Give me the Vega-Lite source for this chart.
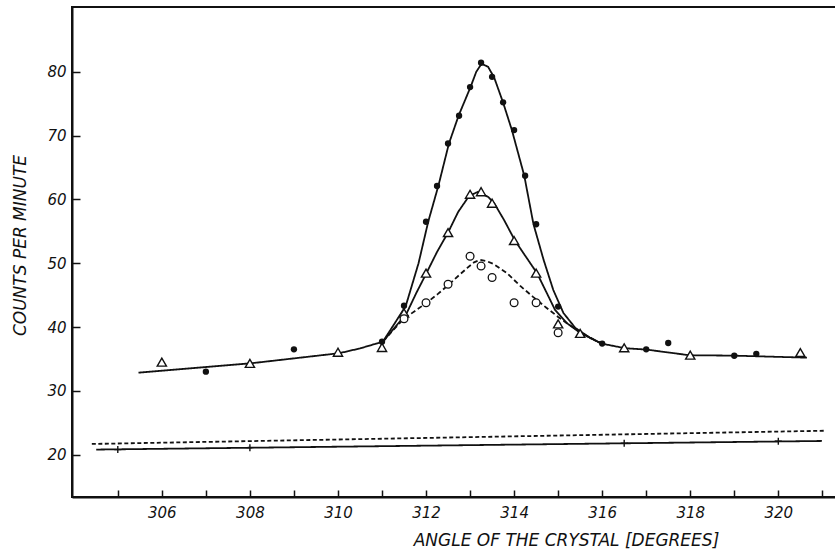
{
  "$schema": "https://vega.github.io/schema/vega-lite/v6.json",
  "autosize": {"type": "none"},
  "padding": {"left": 72, "top": 7, "right": 0, "bottom": 55},
  "width": 764,
  "height": 490,
  "background": "white",
  "config": {
    "view": {"stroke": "#111", "strokeWidth": 2},
    "axis": {
      "grid": false,
      "domainColor": "#111",
      "domainWidth": 2,
      "tickColor": "#111",
      "tickWidth": 1.5,
      "labelColor": "#111",
      "labelFont": "DejaVu Sans",
      "labelFontStyle": "italic",
      "labelFontSize": 15,
      "titleColor": "#111",
      "titleFont": "DejaVu Sans",
      "titleFontStyle": "italic",
      "titleFontWeight": "normal"
    }
  },
  "datasets": {
    "curves": [
      {"s": "baseL", "x": 305.47, "y": 32.85},
      {"s": "baseL", "x": 308.04, "y": 34.33},
      {"s": "baseL", "x": 310.03, "y": 35.9},
      {"s": "baseL", "x": 310.5, "y": 36.65},
      {"s": "baseL", "x": 311.02, "y": 37.71},
      {"s": "A", "x": 311.02, "y": 37.71},
      {"s": "A", "x": 311.28, "y": 40.49},
      {"s": "A", "x": 311.54, "y": 43.31},
      {"s": "A", "x": 311.83, "y": 50.0},
      {"s": "A", "x": 312.05, "y": 56.52},
      {"s": "A", "x": 312.28, "y": 62.12},
      {"s": "A", "x": 312.52, "y": 68.75},
      {"s": "A", "x": 312.74, "y": 73.13},
      {"s": "A", "x": 313.01, "y": 77.59},
      {"s": "A", "x": 313.14, "y": 79.98},
      {"s": "A", "x": 313.26, "y": 81.24},
      {"s": "A", "x": 313.41, "y": 80.77},
      {"s": "A", "x": 313.55, "y": 79.04},
      {"s": "A", "x": 313.75, "y": 75.17},
      {"s": "A", "x": 313.95, "y": 70.85},
      {"s": "A", "x": 314.23, "y": 63.73},
      {"s": "A", "x": 314.44, "y": 56.11},
      {"s": "A", "x": 314.67, "y": 50.52},
      {"s": "A", "x": 314.89, "y": 45.8},
      {"s": "A", "x": 315.12, "y": 42.2},
      {"s": "A", "x": 315.39, "y": 39.86},
      {"s": "A", "x": 315.73, "y": 38.29},
      {"s": "A", "x": 315.99, "y": 37.4},
      {"s": "B", "x": 311.02, "y": 37.71},
      {"s": "B", "x": 311.3, "y": 40.0},
      {"s": "B", "x": 311.56, "y": 42.16},
      {"s": "B", "x": 311.78, "y": 45.35},
      {"s": "B", "x": 312.01, "y": 48.45},
      {"s": "B", "x": 312.25, "y": 51.77},
      {"s": "B", "x": 312.5, "y": 54.8},
      {"s": "B", "x": 312.73, "y": 58.04},
      {"s": "B", "x": 312.98, "y": 60.55},
      {"s": "B", "x": 313.18, "y": 61.18},
      {"s": "B", "x": 313.41, "y": 60.39},
      {"s": "B", "x": 313.55, "y": 59.37},
      {"s": "B", "x": 313.77, "y": 56.79},
      {"s": "B", "x": 314.02, "y": 53.54},
      {"s": "B", "x": 314.27, "y": 50.99},
      {"s": "B", "x": 314.52, "y": 48.45},
      {"s": "B", "x": 314.73, "y": 45.5},
      {"s": "B", "x": 314.93, "y": 42.68},
      {"s": "B", "x": 315.2, "y": 40.6},
      {"s": "B", "x": 315.52, "y": 39.0},
      {"s": "B", "x": 315.99, "y": 37.4},
      {"s": "C", "x": 311.02, "y": 37.71},
      {"s": "C", "x": 311.3, "y": 39.86},
      {"s": "C", "x": 311.49, "y": 41.27},
      {"s": "C", "x": 311.75, "y": 42.52},
      {"s": "C", "x": 312.02, "y": 43.84},
      {"s": "C", "x": 312.27, "y": 45.19},
      {"s": "C", "x": 312.53, "y": 46.72},
      {"s": "C", "x": 312.73, "y": 48.0},
      {"s": "C", "x": 312.93, "y": 49.22},
      {"s": "C", "x": 313.09, "y": 50.13},
      {"s": "C", "x": 313.23, "y": 50.52},
      {"s": "C", "x": 313.39, "y": 50.28},
      {"s": "C", "x": 313.53, "y": 49.89},
      {"s": "C", "x": 313.84, "y": 48.43},
      {"s": "C", "x": 314.14, "y": 46.44},
      {"s": "C", "x": 314.43, "y": 44.72},
      {"s": "C", "x": 314.74, "y": 42.99},
      {"s": "C", "x": 315.0, "y": 41.58},
      {"s": "C", "x": 315.2, "y": 40.6},
      {"s": "C", "x": 315.54, "y": 39.03},
      {"s": "C", "x": 315.99, "y": 37.4},
      {"s": "baseR", "x": 315.99, "y": 37.4},
      {"s": "baseR", "x": 316.52, "y": 36.68},
      {"s": "baseR", "x": 317.01, "y": 36.46},
      {"s": "baseR", "x": 317.98, "y": 35.58},
      {"s": "baseR", "x": 318.98, "y": 35.52},
      {"s": "baseR", "x": 320.65, "y": 35.2},
      {"s": "bgDash", "x": 304.41, "y": 21.68},
      {"s": "bgDash", "x": 321.04, "y": 23.75},
      {"s": "bgSolid", "x": 304.51, "y": 20.8},
      {"s": "bgSolid", "x": 320.99, "y": 22.15}
    ],
    "points": [
      {"k": "filled", "x": 307.0, "y": 33.0},
      {"k": "filled", "x": 309.0, "y": 36.5},
      {"k": "filled", "x": 311.0, "y": 37.7},
      {"k": "filled", "x": 311.5, "y": 43.35},
      {"k": "filled", "x": 312.0, "y": 56.5},
      {"k": "filled", "x": 312.25, "y": 62.1},
      {"k": "filled", "x": 312.5, "y": 68.75},
      {"k": "filled", "x": 312.75, "y": 73.1},
      {"k": "filled", "x": 313.0, "y": 77.6},
      {"k": "filled", "x": 313.25, "y": 81.4},
      {"k": "filled", "x": 313.5, "y": 79.2},
      {"k": "filled", "x": 313.75, "y": 75.2},
      {"k": "filled", "x": 314.0, "y": 70.85},
      {"k": "filled", "x": 314.25, "y": 63.7},
      {"k": "filled", "x": 314.5, "y": 56.1},
      {"k": "filled", "x": 315.0, "y": 43.2},
      {"k": "filled", "x": 316.0, "y": 37.4},
      {"k": "filled", "x": 317.0, "y": 36.5},
      {"k": "filled", "x": 317.5, "y": 37.5},
      {"k": "filled", "x": 319.0, "y": 35.5},
      {"k": "filled", "x": 319.5, "y": 35.8},
      {"k": "triangle", "x": 306.0, "y": 34.5},
      {"k": "triangle", "x": 308.0, "y": 34.3},
      {"k": "triangle", "x": 310.0, "y": 36.05},
      {"k": "triangle", "x": 311.0, "y": 36.8},
      {"k": "triangle", "x": 311.5, "y": 42.2},
      {"k": "triangle", "x": 312.0, "y": 48.45},
      {"k": "triangle", "x": 312.5, "y": 54.8},
      {"k": "triangle", "x": 313.0, "y": 60.8},
      {"k": "triangle", "x": 313.25, "y": 61.2},
      {"k": "triangle", "x": 313.5, "y": 59.4},
      {"k": "triangle", "x": 314.0, "y": 53.55},
      {"k": "triangle", "x": 314.5, "y": 48.45},
      {"k": "triangle", "x": 315.0, "y": 40.5},
      {"k": "triangle", "x": 315.5, "y": 39.0},
      {"k": "triangle", "x": 316.5, "y": 36.75},
      {"k": "triangle", "x": 318.0, "y": 35.6},
      {"k": "triangle", "x": 320.5, "y": 36.0},
      {"k": "open", "x": 311.5, "y": 41.3},
      {"k": "open", "x": 312.0, "y": 43.8},
      {"k": "open", "x": 312.5, "y": 46.7},
      {"k": "open", "x": 313.0, "y": 51.1},
      {"k": "open", "x": 313.25, "y": 49.55},
      {"k": "open", "x": 313.5, "y": 47.75},
      {"k": "open", "x": 314.0, "y": 43.8},
      {"k": "open", "x": 314.5, "y": 43.8},
      {"k": "open", "x": 315.0, "y": 39.1},
      {"k": "cross", "x": 305.0, "y": 20.8},
      {"k": "cross", "x": 308.0, "y": 21.1},
      {"k": "cross", "x": 316.5, "y": 21.8},
      {"k": "cross", "x": 320.0, "y": 22.1}
    ]
  },
  "encoding": {
    "x": {
      "field": "x",
      "type": "quantitative",
      "scale": {"domain": [303.96, 321.31], "nice": false, "zero": false},
      "axis": {
        "title": "ANGLE OF THE CRYSTAL [DEGREES]",
        "values": [305, 306, 307, 308, 309, 310, 311, 312, 313, 314, 315, 316, 317, 318, 319, 320, 321],
        "format": "d",
        "labelExpr": "datum.value % 2 == 0 ? datum.label : ''",
        "tickSize": -7,
        "labelPadding": 15,
        "titleFontSize": 17,
        "titleX": 494,
        "titleY": 48,
        "titleAlign": "center",
        "titleBaseline": "alphabetic"
      }
    },
    "y": {
      "field": "y",
      "type": "quantitative",
      "scale": {"domain": [13.37, 90.14], "nice": false, "zero": false},
      "axis": {
        "title": "COUNTS PER MINUTE",
        "values": [20, 30, 40, 50, 60, 70, 80],
        "tickSize": -8,
        "labelPadding": 14,
        "titleFontSize": 17,
        "titleX": -47,
        "titleY": 238,
        "titleAngle": -90,
        "titleAlign": "center",
        "titleBaseline": "alphabetic"
      }
    }
  },
  "layer": [
    {
      "data": {"name": "curves"},
      "mark": {"type": "line", "color": "#111", "strokeWidth": 1.8},
      "encoding": {
        "detail": {"field": "s", "type": "nominal"},
        "strokeDash": {
          "field": "s",
          "type": "nominal",
          "scale": {
            "domain": ["baseL", "A", "B", "C", "baseR", "bgDash", "bgSolid"],
            "range": [[1, 0], [1, 0], [1, 0], [5, 3], [1, 0], [4, 2.5], [1, 0]]
          },
          "legend": null
        }
      }
    },
    {
      "data": {"name": "points"},
      "transform": [{"filter": "datum.k == 'triangle'"}],
      "mark": {"type": "point", "shape": "triangle-up", "size": 85, "filled": false, "fill": "white", "fillOpacity": 1, "stroke": "#111", "strokeWidth": 1.4, "opacity": 1}
    },
    {
      "data": {"name": "points"},
      "transform": [{"filter": "datum.k == 'open'"}],
      "mark": {"type": "point", "shape": "circle", "size": 60, "filled": false, "fill": "white", "fillOpacity": 1, "stroke": "#111", "strokeWidth": 1.3, "opacity": 1}
    },
    {
      "data": {"name": "points"},
      "transform": [{"filter": "datum.k == 'filled'"}],
      "mark": {"type": "point", "shape": "circle", "size": 40, "filled": true, "color": "#111", "opacity": 1}
    },
    {
      "data": {"name": "points"},
      "transform": [{"filter": "datum.k == 'cross'"}],
      "mark": {"type": "point", "shape": "M-1,0H1M0,-1V1", "size": 50, "filled": false, "stroke": "#111", "strokeWidth": 1.4, "opacity": 1}
    }
  ]
}
